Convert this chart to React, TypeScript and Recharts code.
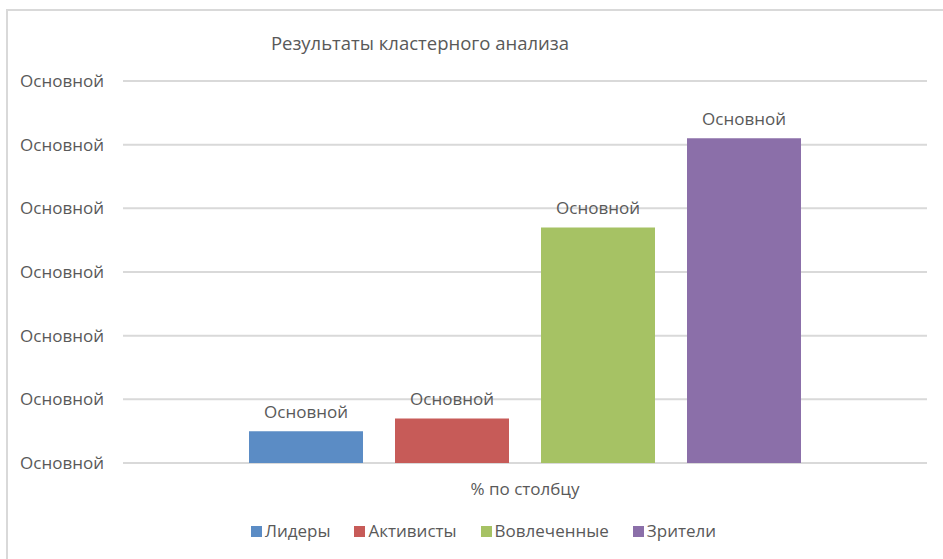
import React from 'react';
import { BarChart, Bar, XAxis, YAxis, CartesianGrid, LabelList } from 'recharts';

const categories = ['% по столбцу'];
const seriesNames = ['Лидеры', 'Активисты', 'Вовлеченные', 'Зрители'];
const seriesValues = [5, 7, 37, 51];
const seriesColors = ['#5b8cc5', '#c75b58', '#a6c264', '#8b6fa9'];
const yTicks = [0, 10, 20, 30, 40, 50, 60];
const tickText = 'Основной';
const title = 'Результаты кластерного анализа';

const data = categories.map((c) => {
  const row: any = { name: c };
  seriesNames.forEach((s, i) => (row[s] = seriesValues[i]));
  return row;
});

const font = '"Open Sans", sans-serif';
const textColor = '#595959';

export default function App() {
  return (
    <div style={{ position: 'absolute', left: 0, top: 0, width: 943, height: 559, background: '#fff', fontFamily: font, overflow: 'hidden' }}>
      {/* chart frame, only left and top edges visible */}
      <div
        style={{
          position: 'absolute', left: 6, top: 9, width: 950, height: 560,
          borderLeft: '2px solid #d9d9d9', borderTop: '2px solid #d9d9d9',
        }}
      />
      <div
        style={{
          position: 'absolute', left: 220, width: 400, top: 30, textAlign: 'center',
          fontSize: 18.5, color: textColor, lineHeight: '26px',
        }}
      >
        {title}
      </div>
      <div style={{ position: 'absolute', left: 0, top: 0 }}>
        <BarChart
          width={943}
          height={559}
          data={data}
          margin={{ top: 81, right: 16, left: 0, bottom: 66 }}
          barCategoryGap="15.7%"
          barGap={32}
        >
          <CartesianGrid vertical={false} stroke="#d9d9d9" strokeWidth={2} />
          <XAxis
            dataKey="name"
            height={30}
            axisLine={false}
            tickLine={false}
            tickSize={0}
            tickMargin={20}
            tick={{ fill: textColor, fontSize: 17, fontFamily: font }}
          />
          <YAxis
            width={123}
            domain={[0, 60]}
            ticks={yTicks}
            axisLine={false}
            tickLine={false}
            tickSize={0}
            tickMargin={19}
            tickFormatter={() => tickText}
            tick={{ fill: textColor, fontSize: 17, fontFamily: font }}
          />
          {seriesNames.map((s, i) => (
            <Bar key={s} dataKey={s} fill={seriesColors[i]} barSize={114} isAnimationActive={false}>
              <LabelList
                dataKey={s}
                position="top"
                offset={13}
                formatter={() => tickText}
                style={{ fill: textColor, fontSize: 17, fontFamily: font }}
              />
            </Bar>
          ))}
        </BarChart>
      </div>
      {/* legend */}
      <div
        style={{
          position: 'absolute', left: 0, width: 991, top: 518, display: 'flex',
          justifyContent: 'center', fontSize: 17, color: textColor, lineHeight: '26px',
        }}
      >
        {seriesNames.map((s, i) => (
          <div key={s} style={{ display: 'flex', alignItems: 'center', marginRight: 24 }}>
            <span style={{ width: 11, height: 11, background: seriesColors[i], marginRight: 3, display: 'inline-block' }} />
            <span>{s}</span>
          </div>
        ))}
      </div>
    </div>
  );
}
